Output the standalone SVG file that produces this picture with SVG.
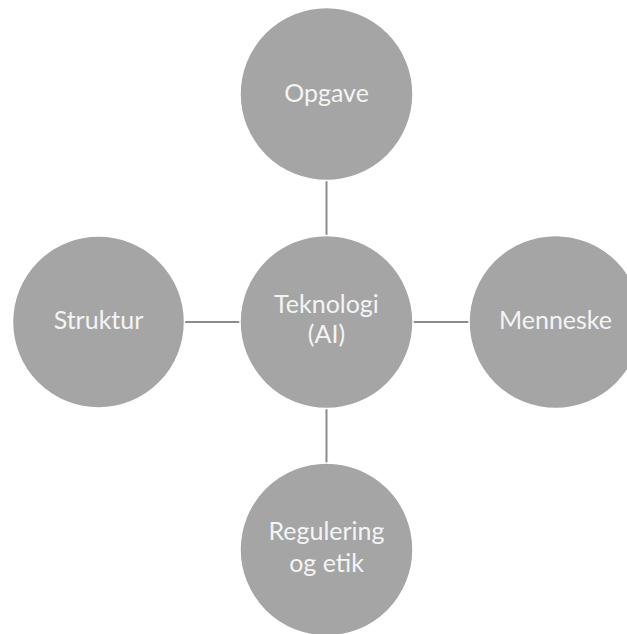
<svg xmlns="http://www.w3.org/2000/svg" width="627" height="634" viewBox="0 0 627 634">
<style>
.node circle{fill:#a5a5a5;stroke:#ffffff;stroke-width:1.5}
.node text{fill:#f4f4f4;font-family:Lato,"Open Sans","Noto Sans",sans-serif;font-size:25px;text-anchor:middle}
.conn line{stroke:#8c8c8c;stroke-width:2}
</style>
<rect width="627" height="634" fill="#ffffff"/>
<g id="connectors" class="conn">
<line x1="326.5" y1="181" x2="326.5" y2="236"/>
<line x1="326.5" y1="408" x2="326.5" y2="463"/>
<line x1="185" y1="322" x2="240" y2="322"/>
<line x1="413" y1="322" x2="469" y2="322"/>
</g>
<g id="opgave" class="node"><circle cx="326.5" cy="94" r="86.5"/><text x="326.5" y="102">Opgave</text></g>
<g id="struktur" class="node"><circle cx="98.5" cy="322" r="86"/><text x="98.5" y="329">Struktur</text></g>
<g id="teknologi" class="node"><circle cx="326.5" cy="322" r="86.5"/><text x="326.5" y="313">Teknologi</text><text x="326.5" y="343">(AI)</text></g>
<g id="menneske" class="node"><circle cx="555.5" cy="322" r="86.5"/><text x="555.5" y="329">Menneske</text></g>
<g id="regulering" class="node"><circle cx="326.5" cy="549.5" r="86.5"/><text x="326.5" y="540">Regulering</text><text x="326.5" y="572">og etik</text></g>
</svg>
